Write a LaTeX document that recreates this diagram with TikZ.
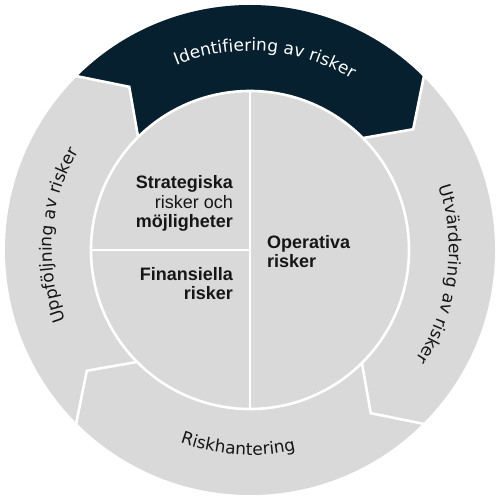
\documentclass[tikz,border=0pt]{standalone}
\usepackage{fontspec}
\setmainfont{Liberation Sans}
\newfontfamily\ringfont{DejaVu Sans}
\usetikzlibrary{decorations.text}

\definecolor{navy}{HTML}{06202F}
\definecolor{ringgray}{HTML}{D9D9D9}
\definecolor{ink}{HTML}{161616}

\tikzset{
  seam/.style={white,line width=2.6pt},
  ringlabel/.style 2 args={decorate,decoration={text along path,text align=center,
      text color=#1,text={|\ringfont\fontsize{17}{20}\selectfont|#2}}},
  risklabel/.style={inner sep=0pt,text=ink,font=\bfseries\fontsize{18}{19.5}\selectfont},
}

\begin{document}
\begin{tikzpicture}[x=1pt,y=1pt]
  \useasboundingbox (-250,-250) rectangle (250,250);
  % outer ring and the highlighted step
  \fill[ringgray] (0,0) circle (245);
  \fill[navy] (135:245) arc[start angle=135,end angle=45,radius=245] -- (36.5:203)
    -- (45:159) arc[start angle=45,end angle=135,radius=159] -- (126.5:203) -- cycle;
  \foreach \a in {45,135,225,315}{\draw[seam] (\a:246) -- ({\a-8.5}:203) -- (\a:158);}
  % inner disc
  \draw[seam,fill=ringgray] (0,0) circle (159);
  \draw[seam] (0,159) -- (0,-159);
  \draw[seam] (-159,0) -- (0,0);
  % step labels
  \path[ringlabel={white}{Identifiering av risker}] (148:199) arc[start angle=148,end angle=23,radius=199];
  \path[ringlabel={ink}{Utvärdering av risker}] (55:199) arc[start angle=55,end angle=-70,radius=199];
  \path[ringlabel={ink}{Riskhantering}] (204:205) arc[start angle=204,end angle=329,radius=205];
  \path[ringlabel={ink}{Uppföljning av risker}] (238:198) arc[start angle=238,end angle=113,radius=198];
  % risk types (anchored on the last line)
  \node[risklabel,align=right,anchor=base east] (strat) at (-17,22) {Strategiska\\{\mdseries risker och}\\möjligheter};
  \node[risklabel,align=right,anchor=base east] (finans) at (-17,-50) {Finansiella\\risker};
  \node[risklabel,align=left,anchor=base west] (oper) at (17,-18) {Operativa\\risker};
\end{tikzpicture}
\end{document}
